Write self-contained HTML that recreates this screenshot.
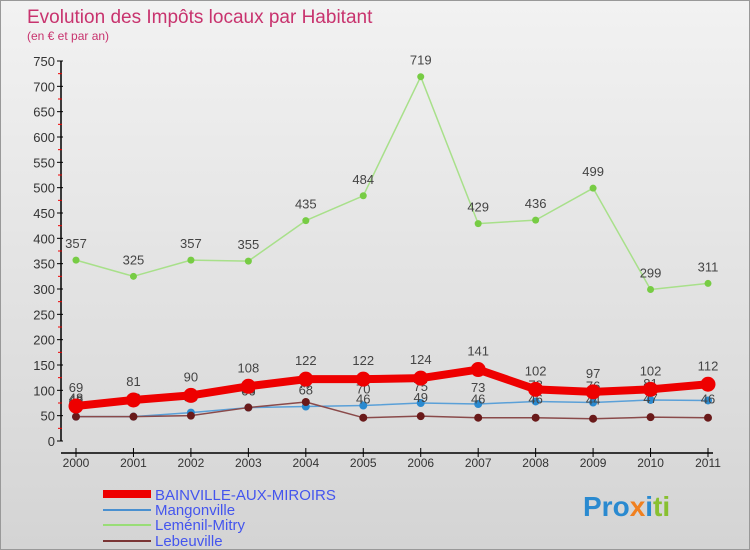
<!DOCTYPE html>
<html><head><meta charset="utf-8"><style>
body{margin:0;}
#c{width:748px;height:548px;border:1px solid #999;background:linear-gradient(#f2f2f2,#d4d4d4);position:relative;font-family:"Liberation Sans",sans-serif;overflow:hidden}
</style></head><body>
<div id="c">
<svg id="s" width="748" height="548" xmlns="http://www.w3.org/2000/svg">
<text x="26" y="22" font-size="19" fill="#c8336e">Evolution des Impôts locaux par Habitant</text>
<text x="26" y="39" font-size="12" fill="#c8336e">(en € et par an)</text>
<g id="axes"></g><g id="series"></g>
<g>
<line x1="102" y1="493" x2="150" y2="493" stroke="#e00" stroke-width="8"/>
<text x="154" y="499" font-size="15" fill="#4455ee">BAINVILLE-AUX-MIROIRS</text>
<line x1="102" y1="509" x2="150" y2="509" stroke="#4a90d0" stroke-width="2"/>
<text x="154" y="514" font-size="15" fill="#4455ee">Mangonville</text>
<line x1="102" y1="524" x2="150" y2="524" stroke="#99dd77" stroke-width="2"/>
<text x="154" y="529" font-size="15" fill="#4455ee">Leménil-Mitry</text>
<line x1="102" y1="540" x2="150" y2="540" stroke="#7a3535" stroke-width="2"/>
<text x="154" y="545" font-size="15" fill="#4455ee">Lebeuville</text>
</g>
<text x="582" y="515" font-size="28" font-weight="bold"><tspan fill="#2a8ad0">Pro</tspan><tspan fill="#f08020">x</tspan><tspan fill="#2a8ad0">i</tspan><tspan fill="#88c030">ti</tspan></text>
</svg></div>
<script>
const years=["2000","2001","2002","2003","2004","2005","2006","2007","2008","2009","2010","2011"];
const bainville=[69,81,90,108,122,122,124,141,102,97,102,112];
const mangonville=[48,48,56,66,68,70,75,73,78,76,81,80];
const lemenil=[357,325,357,355,435,484,719,429,436,499,299,311];
const lebeuville=[48,48,50,66,77,46,49,46,46,44,47,46];
const yTicks=[0,50,100,150,200,250,300,350,400,450,500,550,600,650,700,750];
const NS="http://www.w3.org/2000/svg";
const X=i=>75+i*(707-75)/(years.length-1);
const Y=v=>440-v*380/750;
function mk(t,a,p){const e=document.createElementNS(NS,t);for(const k in a)e.setAttribute(k,a[k]);p.appendChild(e);return e;}
const ax=document.getElementById('axes'),sg=document.getElementById('series');
const ya=mk('line',{x1:60,y1:Y(750),x2:60,y2:440,stroke:'#000','stroke-width':1.5},ax);


const xa=mk('line',{x1:60,y1:452,x2:712,y2:452,stroke:'#000','stroke-width':1.5},ax);


yTicks.forEach(v=>{
 mk('line',{x1:56,y1:Y(v),x2:62,y2:Y(v),stroke:'#000'},ax);
 if(v<750)mk('line',{x1:57,y1:Y(v+25),x2:61,y2:Y(v+25),stroke:'#e00'},ax);
 const t=mk('text',{x:54,y:Y(v)+5,'text-anchor':'end','font-size':13,fill:'#333'},ax);t.textContent=v;
 
 
});
years.forEach((y,i)=>{
 mk('line',{x1:X(i),y1:447,x2:X(i),y2:456,stroke:'#000'},ax);
 const t=mk('text',{x:X(i),y:466,'text-anchor':'middle','font-size':12,fill:'#333'},ax);t.textContent=y;
 
 
});
function series(vals,name,color,w,r,dot,labelOff){
 const g=mk('g',{},sg);
 
 
 mk('polyline',{points:vals.map((v,i)=>X(i)+','+Y(v)).join(' '),fill:'none',stroke:color,'stroke-width':w,'stroke-linejoin':'round'},g);
 vals.forEach((v,i)=>{
  const c=mk('circle',{cx:X(i),cy:Y(v),r:r,fill:dot},g);
  
  
  const t=mk('text',{x:X(i),y:Y(v)+labelOff,'text-anchor':'middle','font-size':13,fill:'#444'},g);t.textContent=v;
  
  
 });
}
series(lemenil,'lemenil','#a8e08a',1.5,3.5,'#77cc44',-12);
series(mangonville,'mangonville','#5aa0d8',1.5,4,'#2a8ad0',-12);
series(lebeuville,'lebeuville','#8a4a4a',1.5,4,'#6a1a1a',-14);
series(bainville,'bainville','#ee0000',8,7.5,'#ee0000',-14);
</script>
</body></html>
